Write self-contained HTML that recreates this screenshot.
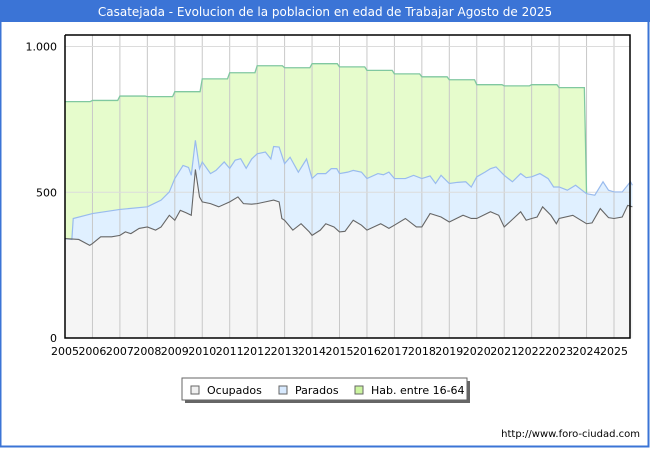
<!DOCTYPE html>
<html><head><meta charset="utf-8">
<style>
body{margin:0;background:#fff;}
#wrap{position:relative;width:650px;height:450px;overflow:hidden;font-family:"DejaVu Sans","Liberation Sans",sans-serif;}
</style></head>
<body>
<div id="wrap">
<svg id="chart" width="650" height="450" xmlns="http://www.w3.org/2000/svg">
  <rect x="0" y="0" width="650" height="450" fill="#fff"/>
  <rect x="0" y="0" width="650" height="22" fill="#3b74d6"/>
  <rect x="0.5" y="0.5" width="648" height="446" fill="none" stroke="#3b74d6" stroke-width="2"/>
  <text x="325" y="16" text-anchor="middle" font-size="12" fill="#fff">Casatejada - Evolucion de la poblacion en edad de Trabajar Agosto de 2025</text>
  <g id="plot"></g>
  <g>
    <rect x="185" y="381" width="285" height="22" fill="#666"/>
    <rect x="182" y="378" width="285" height="22" fill="#fff" stroke="#666" stroke-width="1"/>
    <rect x="191" y="386" width="8" height="8" fill="#f0f0f0" stroke="#666"/>
    <text x="207" y="394" font-size="11" fill="#000">Ocupados</text>
    <rect x="279" y="386" width="8" height="8" fill="#d8eaff" stroke="#666"/>
    <text x="295" y="394" font-size="11" fill="#000">Parados</text>
    <rect x="355" y="386" width="8" height="8" fill="#ccf5a0" stroke="#666"/>
    <text x="371" y="394" font-size="11" fill="#000">Hab. entre 16-64</text>
  </g>
  <text x="640" y="437" text-anchor="end" font-size="10" fill="#000">http://www.foro-ciudad.com</text>
</svg>
</div>
<script>
const years = [2005,2006,2007,2008,2009,2010,2011,2012,2013,2014,2015,2016,2017,2018,2019,2020,2021,2022,2023,2024,2025];
const yTicks = [0,500,1000];
const yTickLabels = ["0","500","1.000"];
const habYears = [2005,2006,2007,2008,2009,2010,2011,2012,2013,2014,2015,2016,2017,2018,2019,2020,2021,2022,2023];
const habValues = [811,815,830,828,845,889,910,934,927,941,930,918,906,896,886,869,865,869,859];
const paradosT = [2005,2005.25,2005.3,2006,2007,2008,2008.5,2008.8,2009,2009.3,2009.5,2009.6,2009.75,2009.9,2010,2010.3,2010.5,2010.8,2011,2011.2,2011.4,2011.6,2011.8,2012,2012.3,2012.5,2012.6,2012.8,2013,2013.2,2013.5,2013.8,2014,2014.2,2014.5,2014.7,2014.9,2015,2015.3,2015.5,2015.8,2016,2016.4,2016.6,2016.8,2017,2017.4,2017.7,2018,2018.3,2018.5,2018.7,2019,2019.3,2019.6,2019.8,2020,2020.3,2020.5,2020.7,2021,2021.3,2021.6,2021.8,2022,2022.3,2022.6,2022.8,2023,2023.3,2023.6,2024,2024.3,2024.6,2024.8,2025,2025.3,2025.6,2025.67];
const paradosValues = [341,338,410,427,441,450,473,501,547,592,585,558,678,581,604,564,575,604,582,610,615,582,614,632,638,614,657,655,598,620,569,614,547,564,564,581,581,564,569,575,569,547,564,560,569,547,547,558,547,556,530,558,530,534,536,518,553,569,581,587,558,536,564,550,553,564,547,518,518,507,524,495,490,536,507,501,501,536,524];
const ocupT = [2005,2005.5,2005.9,2006,2006.3,2006.7,2007,2007.2,2007.4,2007.7,2008,2008.3,2008.5,2008.8,2009,2009.2,2009.4,2009.6,2009.75,2009.9,2010,2010.3,2010.6,2011,2011.3,2011.5,2011.8,2012,2012.3,2012.6,2012.8,2012.9,2013,2013.3,2013.6,2013.9,2014,2014.3,2014.5,2014.8,2015,2015.2,2015.5,2015.8,2016,2016.5,2016.8,2017,2017.4,2017.8,2018,2018.3,2018.7,2019,2019.5,2019.8,2020,2020.5,2020.8,2021,2021.2,2021.6,2021.8,2022,2022.2,2022.4,2022.7,2022.9,2023,2023.5,2024,2024.2,2024.5,2024.8,2025,2025.3,2025.5,2025.67];
const ocupValues = [341,338,318,324,347,347,352,364,358,376,381,370,381,421,404,438,430,421,578,484,467,461,450,467,484,461,459,461,467,473,467,410,404,370,392,364,352,370,392,381,364,366,404,387,370,392,376,387,410,381,381,427,415,398,421,410,410,433,421,381,398,433,404,410,415,450,421,392,410,421,392,395,444,413,410,415,455,450];

const L=65,R=630,T=35,B=338;
const X = t => L + (t-2005)*27.45;
const Y = v => B - v*0.2915;
const NS='http://www.w3.org/2000/svg';
const plot=document.getElementById('plot');
function mk(tag,attrs){const e=document.createElementNS(NS,tag);for(const k in attrs)e.setAttribute(k,attrs[k]);plot.appendChild(e);return e;}

const habPts=[];
for(let i=0;i<habYears.length;i++){
  const y0=habYears[i];
  habPts.push([X(y0),Y(habValues[i])]);
  habPts.push([X(y0+0.92),Y(habValues[i])]);
}
habPts.push([X(2024),Y(paradosValues[paradosT.indexOf(2024)])]);
const habLine=habPts.map(p=>p.join(',')).join(' ');
const habArea=mk('polygon',{points:habLine+` ${X(2024)},${B} ${L},${B}`,fill:'#e6fccc',stroke:'none'});



const parPts=paradosT.map((t,i)=>X(t)+','+Y(paradosValues[i])).join(' ');
const parArea=mk('polygon',{points:parPts+` ${X(paradosT[paradosT.length-1])},${B} ${L},${B}`,fill:'#e0f0ff',stroke:'none'});



const ocPts=ocupT.map((t,i)=>X(t)+','+Y(ocupValues[i])).join(' ');
const ocArea=mk('polygon',{points:ocPts+` ${X(ocupT[ocupT.length-1])},${B} ${L},${B}`,fill:'#f5f5f5',stroke:'none'});



years.forEach((yr,i)=>{
  if(i>0){
    const g=mk('line',{x1:X(yr),x2:X(yr),y1:T,y2:B,stroke:'#c8c8c8','stroke-width':1});
    
    
  }
  const t=mk('text',{x:X(yr),y:355,'text-anchor':'middle','font-size':11,fill:'#000'});
  
  
  t.textContent=yr;
});
yTicks.forEach((v,i)=>{
  if(v>0){
    const g=mk('line',{x1:L,x2:R,y1:Y(v),y2:Y(v),stroke:'#dcdcdc','stroke-width':1});
    
    
  }
  const t=mk('text',{x:57,y:Y(v)+4,'text-anchor':'end','font-size':11,fill:'#000'});
  
  
  t.textContent=yTickLabels[i];
});

const hl=mk('polyline',{points:habLine,fill:'none',stroke:'#80c8a0','stroke-width':1.3});


const pl=mk('polyline',{points:parPts,fill:'none',stroke:'#99bbee','stroke-width':1.2});


const ol=mk('polyline',{points:ocPts,fill:'none',stroke:'#666','stroke-width':1.1});



const frame=mk('polyline',{points:`${L},${T} ${R},${T} ${R},${B} ${L},${B} ${L},${T}`,fill:'none',stroke:'#000','stroke-width':1.5});


</script>
</body></html>
